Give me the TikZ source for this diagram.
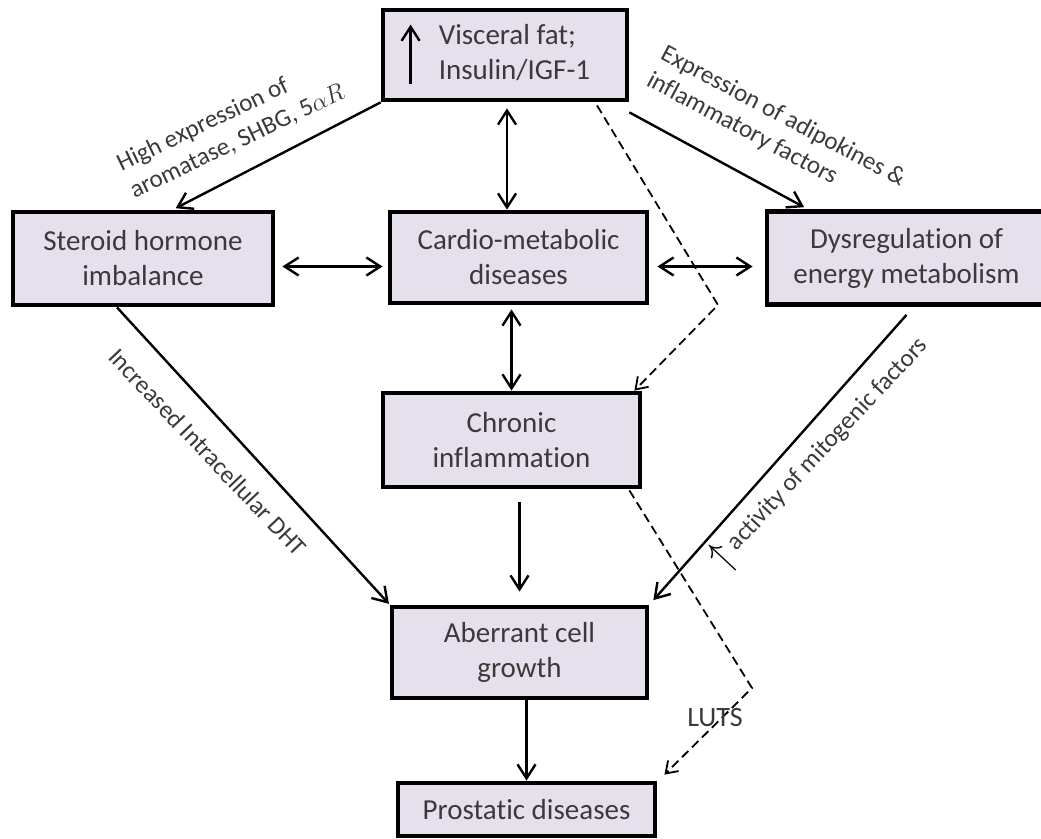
\documentclass[tikz,border=0pt]{standalone}
\usepackage{fontspec}
\setmainfont{Carlito}[Ligatures=NoCommon]
\usetikzlibrary{arrows.meta}
\definecolor{boxfill}{HTML}{E6E0EC}
\definecolor{txtgray}{HTML}{3A3A3A}
\newcommand{\boxfont}{\fontsize{29pt}{35pt}\selectfont}
\newcommand{\lblfont}{\fontsize{25pt}{30pt}\selectfont}

\begin{document}
\begin{tikzpicture}[x=1pt,y=-1pt,
    box/.style={draw,line width=4.8pt,fill=boxfill,align=center,text=txtgray,font=\boxfont},
    lbl/.style={text=txtgray,font=\lblfont,inner sep=0pt},
    link/.style={line width=2.4pt,-{Straight Barb[length=14pt,width=18pt]}},
    dlink/.style={line width=2.4pt,{Straight Barb[length=14pt,width=18pt]}-{Straight Barb[length=14pt,width=18pt]}},
    dashlink/.style={line width=1.8pt,dash pattern=on 9pt off 5pt,-{Straight Barb[length=11pt,width=15pt]}}]

        \clip (0,0) rectangle (1041,838);
        \fill[white] (0,0) rectangle (1041,838);

        % boxes
        \node[box,minimum width=244pt,minimum height=90pt] (visc) at (505,55)
            {\hspace*{19pt}\begin{tabular}{@{}l@{}}Visceral fat;\\Insulin/IGF-1\end{tabular}};
        \draw[link] ([xshift=30pt,yshift=18pt]visc.south west) -- ([xshift=30pt,yshift=-17pt]visc.north west);

        \node[box,minimum width=260pt,minimum height=93pt] (steroid) at (143,258.5) {Steroid hormone\\imbalance};
        \node[box,minimum width=257pt,minimum height=91pt] (cardio) at (518.5,257.5) {Cardio-metabolic\\diseases};
        \node[box,minimum width=279pt,minimum height=93pt] (dysreg) at (906.5,258) {Dysregulation of\\energy metabolism};
        \node[box,minimum width=257pt,minimum height=94pt] (chronic) at (511.5,440) {Chronic\\inflammation};
        \node[box,minimum width=255pt,minimum height=91pt] (aberrant) at (519.5,652.5) {Aberrant cell\\growth};
        \node[box,minimum width=257pt,minimum height=53pt] (prostatic) at (526.5,809.5) {Prostatic diseases};

        % solid links
        \draw[dlink,shorten <=6pt] ([xshift=2pt]visc.south) -- ([xshift=2pt]visc.south |- cardio.north);
        \draw[dlink,shorten <=7pt,shorten >=5pt] ([yshift=-8pt]steroid.east) -- ([yshift=-8pt]steroid.east -| cardio.west);
        \draw[dlink,shorten <=8pt,shorten >=12pt] ([yshift=-9pt]cardio.east) -- ([yshift=-9pt]cardio.east -| dysreg.west);
        \draw[dlink,shorten <=4pt] (chronic.north |- cardio.south) -- (chronic.north);
        \draw[link,shorten <=13pt,shorten >=13pt] (aberrant.north |- chronic.south) -- (aberrant.north);
        \draw[link] (prostatic.north |- aberrant.south) -- (prostatic.north);

        \draw[link,shorten >=3pt] (visc.south west) -- ([xshift=30pt]steroid.north);
        \draw[link,shorten >=4pt] ([yshift=-10pt]visc.south east) -- ([xshift=43pt]dysreg.north west);
        \draw[link,shorten >=1pt] ([xshift=-26pt]steroid.south) -- (aberrant.north west);
        \draw[link,shorten >=6pt] ([yshift=-8pt]dysreg.south) -- (aberrant.north east);

        % dashed links
        \coordinate (bendA) at (718,305);
        \coordinate (bendB) at (752,688);
        \draw[dashlink] ([xshift=92pt,yshift=-3pt]visc.south) -- (bendA) -- ([xshift=-8pt]chronic.north east);
        \draw[dashlink] ([xshift=-13pt,yshift=-1pt]chronic.south east) -- (bendB) -- ([xshift=7pt,yshift=6pt]prostatic.north east);

        % labels
        \node[lbl,rotate=25.5,align=left] (lblHigh) at (231,128) {High expression of\\aromatase, SHBG, 5$\alpha R$};
        \node[lbl,rotate=-28,align=left] (lblAdipo) at (776,130) {Expression of adipokines \&\\inflammatory factors};
        \node[lbl,rotate=-46.5] (lblDHT) at (208,452) {Increased Intracellular DHT};
        \node[lbl,rotate=47] (lblMito) at (820,453) {\raisebox{-4pt}{\color{black}\scalebox{1.4}[1.7]{$\uparrow$}} activity of mitogenic factors};
        \node[lbl,font=\fontsize{28pt}{32pt}\selectfont] (luts) at (715,718) {LUTS};

    \end{tikzpicture}
\end{document}
